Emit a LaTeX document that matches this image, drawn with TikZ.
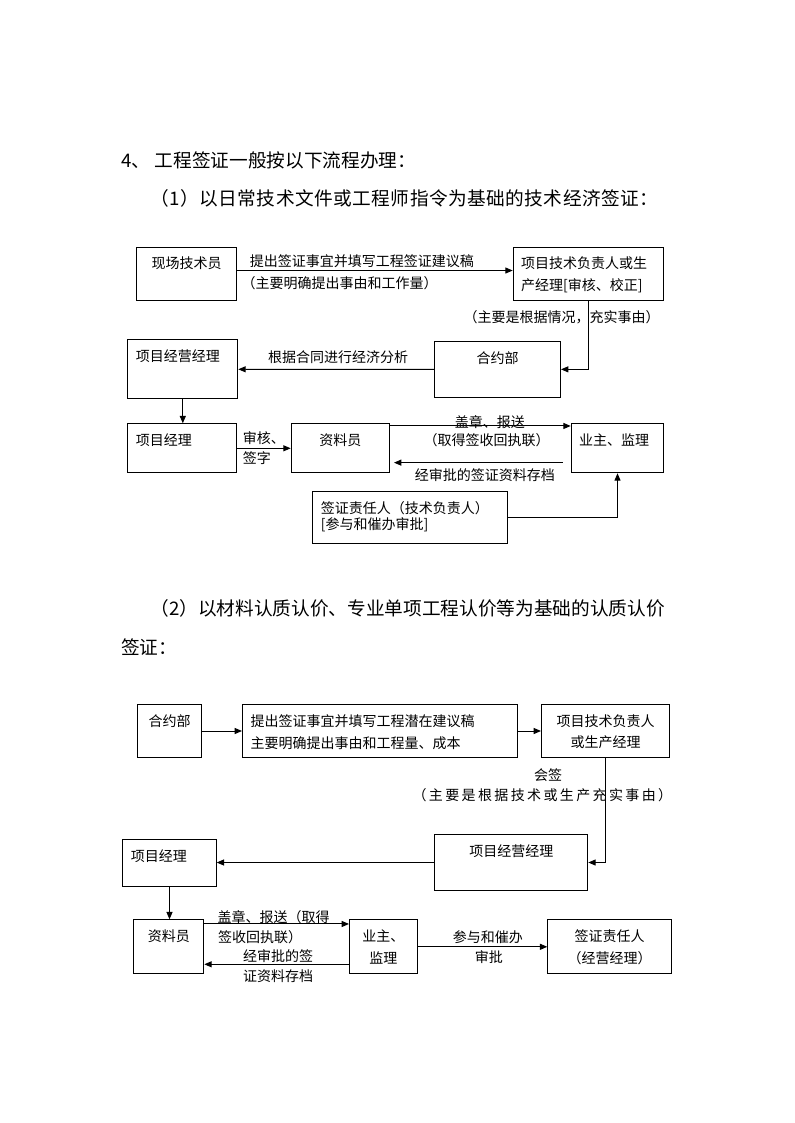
\documentclass[tikz,border=0pt]{standalone}
\usepackage{fontspec}
\setmainfont{Noto Sans CJK SC}
\usetikzlibrary{arrows.meta}
\tikzset{
  box/.style 2 args = { draw, anchor=north west, inner ysep=0pt, inner xsep=6pt, align=left,
                        text width=#1*0.75pt-12pt, text height=16.3pt, text depth=#2*0.75pt-16.3pt },
  mid/.style        = { align=center },
  lbl/.style        = { anchor=base west, inner sep=0pt },
  head/.style       = { anchor=base west, inner sep=0pt, font=\fontsize{14}{18}\selectfont },
}

\begin{document}
\begin{tikzpicture}[
  x=0.75pt,y=-0.75pt,
  >={Triangle[length=5.5pt,width=4.5pt]},line width=0.75pt,
  font=\fontsize{10.5}{16.3}\selectfont
]
  \useasboundingbox (0,0) rectangle (794,1123);

  % headings
  \node (h one)   [head] at (121,168)   {4、 工程签证一般按以下流程办理：};
  \node (h two)   [head,font=\fontsize{14}{18}\selectfont\addfontfeature{LetterSpace=2.5}]
                         at (150,206)   {（1）以日常技术文件或工程师指令为基础的技术经济签证：};
  \node (h three) [head] at (150,615.7) {（2）以材料认质认价、专业单项工程认价等为基础的认质认价};
  \node (h four)  [head] at (120.5,654.7) {签证：};

  % first chart
  \node (tech)    [box={100}{53.3},mid]  at (136,246.7)   {现场技术员};
  \node (lead)    [box={150.6}{53.3}]    at (512.7,246.7) {项目技术负责人或生\\产经理[审核、校正]};
  \node (dept)    [box={126}{55.7},mid]  at (434,341)     {合约部};
  \node (biz)     [box={110}{59}]        at (127.3,339.3) {项目经营经理};
  \node (pm)      [box={108.4}{49}]      at (127.3,423.3) {项目经理};
  \node (clerk)   [box={98.3}{49},mid]   at (290.7,423.3) {资料员};
  \node (owner)   [box={92.6}{49}]       at (570.7,423.3) {业主、监理};
  \node (signer)  [box={194.4}{52.3},font=\fontsize{10.5}{12.5}\selectfont]
                                         at (312.3,491)   {签证责任人（技术负责人）\\{}[参与和催办审批]};

  \node (ab top)  [lbl] at (249.3,267)   {提出签证事宜并填写工程签证建议稿};
  \node (ab bot)  [lbl] at (241,288.5)   {（主要明确提出事由和工作量）};
  \node (bc)      [lbl] at (463,322)     {（主要是根据情况，充实事由）};
  \node (cd)      [lbl] at (267.6,362)   {根据合同进行经济分析};
  \node (ef top)  [lbl] at (242.3,443.5) {审核、};
  \node (ef bot)  [lbl] at (242.3,463.5) {签字};
  \node (fg top)  [lbl] at (454.3,427)   {盖章、报送};
  \node (fg bot)  [lbl] at (423,445.3)   {（取得签收回执联）};
  \node (gf)      [lbl] at (414.3,480.3) {经审批的签证资料存档};

  \draw [->] ([yshift=2.5pt]tech.east) -- ([yshift=2.5pt]lead.west);
  \draw [->] (lead.south) |- (dept.east);
  \draw [->] (dept.west) -- (biz.east);
  \draw [->] (biz.south) -- (biz.south |- pm.north);
  \draw [->] (pm.east) -- (clerk.west);
  \draw [->] ([yshift=-2pt]clerk.north east) -- ([yshift=-2pt]owner.north west);
  \draw [->,shorten <=6pt,shorten >=3pt] ([yshift=8pt]owner.south west) -- ([yshift=8pt]clerk.south east);
  \draw [->] (signer.east) -| (owner.south);

  % second chart
  \node (dept2)   [box={64}{53},mid]     at (137,704)     {合约部};
  \node (draft)   [box={275}{53},font=\fontsize{10.5}{16.8}\selectfont]
                                         at (242,704)     {提出签证事宜并填写工程潜在建议稿\\主要明确提出事由和工程量、成本};
  \node (lead2)   [box={128}{53},mid]    at (541,704)     {项目技术负责人\\或生产经理};
  \node (biz2)    [box={153}{56},mid]    at (434.3,834)   {项目经营经理};
  \node (pm2)     [box={93.4}{46.7}]     at (122.3,839.3) {项目经理};
  \node (clerk2)  [box={70}{54},mid]     at (133.3,919.3) {资料员};
  \node (owner2)  [box={67.7}{54},mid]   at (349,919.3)   {业主、\\监理};
  \node (signer2) [box={123.7}{54},mid]  at (547.3,919.3) {签证责任人\\（经营经理）};

  \node (rs top)  [lbl] at (533.5,780)   {会签};
  \node (rs bot)  [lbl,font=\fontsize{10.5}{16.3}\selectfont\addfontfeature{LetterSpace=17}]
                        at (412,800)     {（主要是根据技术或生产充实事由）};
  \node (uv top)  [lbl] at (217,922.5)   {盖章、报送（取得};
  \node (uv bot)  [lbl] at (217.5,942.5) {签收回执联）};
  \node (vu top)  [lbl] at (242.6,961)   {经审批的签};
  \node (vu bot)  [lbl] at (242.6,981.3) {证资料存档};
  \node (vw top)  [lbl] at (452.3,942)   {参与和催办};
  \node (vw bot)  [lbl] at (474.3,962.5) {审批};

  \draw [->] (dept2) -- (draft);
  \draw [->] (draft) -- (lead2);
  \draw [->] (lead2.south) |- (biz2.east);
  \draw [->] (biz2.west) -- (biz2.west -| pm2.east);
  \draw [->] (pm2.south) -- (pm2.south |- clerk2.north);
  \draw [->] ([yshift=-3.5pt]clerk2.north east) -- ([yshift=-3.5pt]owner2.north west);
  \draw [->] ([yshift=7.5pt]owner2.south west) -- ([yshift=7.5pt]clerk2.south east);
  \draw [->] (owner2) -- (signer2);
\end{tikzpicture}
\end{document}
